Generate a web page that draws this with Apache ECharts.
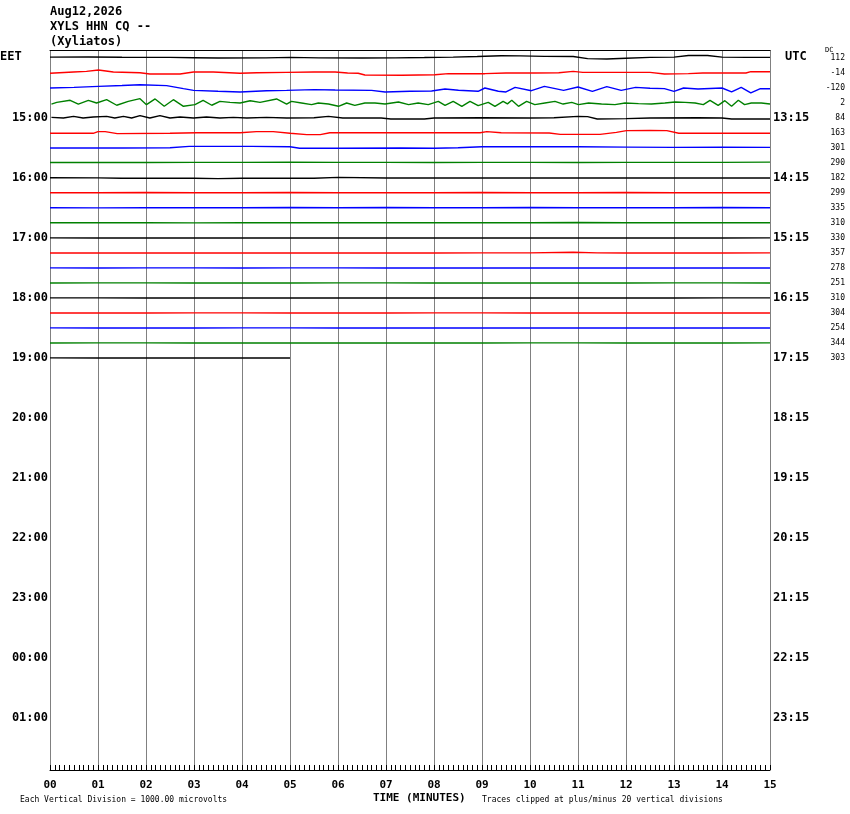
<!DOCTYPE html>
<html>
<head>
<meta charset="utf-8">
<script src="https://cdn.jsdelivr.net/npm/echarts@6/dist/echarts.min.js"></script>
<style>
  html, body { margin: 0; background: #fff; }
  #chart { width: 850px; height: 814px; }
</style>
</head>
<body>
<div id="chart"></div>
<script>
// header / labels
const headerLines = ["Aug12,2026", "XYLS HHN CQ --", "(Xyliatos)"];
const eetLabels = ["15:00", "16:00", "17:00", "18:00", "19:00", "20:00", "21:00", "22:00", "23:00", "00:00", "01:00"];
const utcLabels = ["13:15", "14:15", "15:15", "16:15", "17:15", "18:15", "19:15", "20:15", "21:15", "22:15", "23:15"];
const minuteLabels = ["00", "01", "02", "03", "04", "05", "06", "07", "08", "09", "10", "11", "12", "13", "14", "15"];
const dcOffsets = [112, -14, -120, 2, 84, 163, 301, 290, 182, 299, 335, 310, 330, 357, 278, 251, 310, 304, 254, 344, 303];

// traces: [minute, microvolts], one per 15-minute line
const trace00 = [[0,60],[0.8,65],[1.5,50],[2.5,40],[3,20],[3.5,0],[4.5,10],[5,45],[5.6,10],[6.5,0],[7.2,10],[7.8,30],[8.4,60],[8.9,100],[9.4,150],[9.8,140],[10.3,110],[10.9,100],[11.2,-40],[11.6,-70],[12,-20],[12.5,40],[13,60],[13.3,170],[13.7,170],[14,60],[14.5,40],[15,45]];
const trace01 = [[0,-20],[0.49,67],[0.76,110],[1.01,200],[1.32,67],[1.875,20],[2.08,-67],[2.71,-67],[2.99,67],[3.4,67],[3.96,-20],[4.31,20],[4.93,45],[5.5,67],[5.94,67],[6.2,0],[6.42,-20],[6.56,-130],[7.33,-150],[8.02,-120],[8.3,-45],[9.06,-45],[9.5,0],[10.1,0],[10.6,20],[10.9,110],[11.1,45],[12.5,45],[12.8,-67],[13.3,-40],[13.6,0],[14.5,0],[14.6,90],[15,80]];
const trace02 = [[0,0],[0.5,40],[1.01,110],[1.5,170],[1.875,220],[2.43,155],[2.78,-45],[2.99,-155],[3.5,-220],[3.96,-265],[4.51,-180],[4.93,-155],[5.5,-110],[5.94,-130],[6.7,-160],[6.98,-265],[7.5,-220],[7.95,-200],[8.23,-67],[8.51,-150],[8.92,-220],[9.06,0],[9.34,-220],[9.5,-265],[9.69,45],[10.03,-180],[10.3,110],[10.7,-155],[11,67],[11.3,-220],[11.6,90],[11.9,-155],[12.2,45],[12.5,-20],[12.8,-40],[13,-220],[13.2,0],[13.5,-67],[14,0],[14.2,-265],[14.4,45],[14.6,-330],[14.8,-45],[15,-45]];
const trace03 = [[0.03,-70],[0.14,40],[0.42,180],[0.59,-70],[0.8,180],[0.97,0],[1.18,220],[1.39,-150],[1.63,110],[1.875,290],[2.01,-110],[2.19,270],[2.38,-220],[2.57,220],[2.78,-220],[3.02,-110],[3.19,180],[3.37,-150],[3.54,110],[3.75,40],[3.96,0],[4.17,150],[4.375,40],[4.72,270],[4.93,-70],[5.03,110],[5.24,0],[5.45,-110],[5.59,0],[5.8,-70],[6.01,-220],[6.18,0],[6.35,-155],[6.56,0],[6.77,0],[6.98,-70],[7.26,70],[7.47,-110],[7.67,0],[7.88,-110],[8.09,110],[8.23,-155],[8.4,110],[8.58,-220],[8.75,110],[8.92,-180],[9.13,45],[9.27,-220],[9.44,110],[9.53,-60],[9.62,180],[9.76,-220],[9.93,110],[10.1,-110],[10.31,0],[10.52,110],[10.69,-70],[10.87,45],[11.01,-110],[11.22,0],[11.49,-70],[11.77,-110],[11.98,0],[12.26,-45],[12.53,-70],[12.81,0],[13.02,70],[13.23,45],[13.44,0],[13.61,-110],[13.75,180],[13.92,-155],[14.06,155],[14.2,-220],[14.34,180],[14.47,-110],[14.61,0],[14.82,0],[15,-70]];
const trace04 = [[0.03,45],[0.28,0],[0.49,110],[0.69,0],[0.9,67],[1.18,110],[1.35,0],[1.53,110],[1.7,0],[1.875,155],[2.08,0],[2.29,155],[2.5,0],[2.71,67],[2.99,0],[3.26,67],[3.54,0],[3.82,45],[4.1,0],[4.51,45],[4.93,0],[5.5,20],[5.8,110],[6.1,0],[6.9,0],[7.1,-67],[7.8,-67],[8,0],[9,20],[10,0],[10.5,20],[11,110],[11.2,90],[11.4,-67],[12,-40],[12.5,0],[13.5,20],[14,0],[14.2,-67],[15,-67]];
const trace05 = [[0,-20],[0.9,-20],[1,90],[1.15,90],[1.4,-40],[2.5,-20],[3.06,20],[3.96,20],[4.3,90],[4.65,90],[5,-20],[5.35,-110],[5.63,-110],[5.83,20],[7.3,20],[8.96,20],[9.1,90],[9.4,20],[10.4,0],[10.63,-90],[11.46,-90],[11.8,40],[12.01,155],[12.5,170],[12.85,155],[13.1,-20],[14,-20],[15,-20]];
const trace06 = [[0,0],[1.5,0],[2.5,20],[2.9,110],[4.2,110],[5,80],[5.2,-20],[6,-20],[7.3,0],[8,-20],[8.5,20],[9,80],[11,80],[12,60],[13,40],[14,60],[15,40]];
const trace07 = [[0,30],[1,45],[2,30],[3,45],[4,45],[5,60],[6,45],[7,45],[8,30],[9,45],[10,45],[11,30],[12,40],[13,45],[14,40],[15,60]];
const trace08 = [[0,20],[1,10],[1.5,-20],[3,-20],[3.5,-45],[4,-20],[5.5,-20],[6,45],[7,0],[8,0],[9,0],[10,0],[11,10],[12,0],[13,0],[14,0],[15,0]];
const trace09 = [[0,20],[1,20],[2,30],[3,20],[4,20],[5,30],[6,20],[7,20],[8,20],[9,30],[10,20],[11,20],[12,30],[13,20],[14,20],[15,20]];
const trace10 = [[0,20],[1,10],[2,20],[3,20],[4,20],[5,30],[6,20],[7,30],[8,20],[9,20],[10,30],[11,20],[12,20],[13,20],[14,30],[15,20]];
const trace11 = [[0,20],[1,20],[2,20],[3,10],[4,20],[5,20],[6,20],[7,20],[8,20],[9,20],[10,20],[11,30],[12,20],[13,20],[14,20],[15,20]];
const trace12 = [[0,10],[1,0],[2,10],[3,0],[4,10],[5,0],[6,10],[7,0],[8,0],[9,10],[10,0],[11,10],[12,0],[13,10],[14,0],[15,10]];
const trace13 = [[0,0],[1,10],[2,0],[3,10],[4,0],[5,10],[6,0],[7,10],[8,0],[9,10],[10,10],[10.9,50],[11.4,10],[12,0],[13,10],[14,0],[15,10]];
const trace14 = [[0,10],[1,0],[2,10],[3,10],[4,0],[5,10],[6,10],[7,0],[8,10],[9,0],[10,10],[11,0],[12,10],[13,0],[14,10],[15,0]];
const trace15 = [[0,0],[1,10],[2,10],[3,0],[4,10],[5,0],[6,10],[7,10],[8,0],[9,10],[10,0],[11,10],[12,0],[13,10],[14,10],[15,0]];
const trace16 = [[0,10],[1,10],[2,0],[3,10],[4,0],[5,10],[6,0],[7,0],[8,10],[9,0],[10,10],[11,0],[12,10],[13,0],[14,10],[15,10]];
const trace17 = [[0,0],[1,10],[2,0],[3,10],[4,10],[5,0],[6,10],[7,0],[8,10],[9,10],[10,0],[11,10],[12,0],[13,0],[14,10],[15,0]];
const trace18 = [[0,10],[1,0],[2,10],[3,0],[4,10],[5,10],[6,0],[7,10],[8,0],[9,10],[10,0],[11,0],[12,10],[13,0],[14,10],[15,0]];
const trace19 = [[0,0],[1,10],[2,10],[3,0],[4,10],[5,0],[6,10],[7,0],[8,10],[9,0],[10,10],[11,10],[12,0],[13,10],[14,0],[15,10]];
const trace20 = [[0,10],[1,0],[2,10],[3,0],[4,10],[5,0]];

const traces = [trace00, trace01, trace02, trace03, trace04, trace05, trace06, trace07, trace08, trace09, trace10,
  trace11, trace12, trace13, trace14, trace15, trace16, trace17, trace18, trace19, trace20];

const TRACE_COLORS = ["#000000", "#ff0000", "#0000ff", "#008000"];
const MONO = "DejaVu Sans Mono";
const ROW_MIN = -8 / 15;
const ROW_MAX = 47 + 7 / 15;
const hourRows = eetLabels.map((_, i) => (i + 1) * 4);
const dcRows = dcOffsets.map((_, i) => i);

const chart = echarts.init(document.getElementById("chart"), null, { renderer: "canvas" });

const series = traces.map((tr, row) => ({
  type: "line",
  xAxisIndex: 0,
  yAxisIndex: 0,
  symbol: "none",
  silent: true,
  animation: false,
  lineStyle: { color: TRACE_COLORS[row % 4], width: 1.4 },
  // 1 vertical division (1000 microvolts) = one row spacing
  data: tr.map(([t, uv]) => [t, row - uv / 1000]),
}));

const baseYAxis = {
  type: "value",
  inverse: true,
  min: ROW_MIN,
  max: ROW_MAX,
  axisLine: { show: false },
  axisTick: { show: false },
  splitLine: { show: false },
};

chart.setOption({
  animation: false,
  grid: { left: 50, right: 80, top: 50, height: 720 },
  xAxis: [
    {
      type: "value",
      position: "bottom",
      min: 0,
      max: 15,
      interval: 1,
      axisLine: { show: true, onZero: false, lineStyle: { color: "#000", width: 1 } },
      axisTick: { show: true, inside: true, length: 5, lineStyle: { color: "#000" } },
      minorTick: { show: true, splitNumber: 10, length: 5, lineStyle: { color: "#000" } },
      splitLine: { show: true, lineStyle: { color: "#808080", width: 1 } },
      minorSplitLine: { show: false },
      axisLabel: {
        formatter: (v) => minuteLabels[Math.round(v)],
        color: "#000",
        fontFamily: MONO,
        fontWeight: "bold",
        fontSize: 11,
        margin: 10,
      },
    },
    {
      type: "value",
      position: "top",
      min: 0,
      max: 15,
      axisLine: { show: true, onZero: false, lineStyle: { color: "#000", width: 1 } },
      axisTick: { show: false },
      axisLabel: { show: false },
      splitLine: { show: false },
    },
  ],
  yAxis: [
    {
      ...baseYAxis,
      position: "left",
      axisLabel: {
        customValues: hourRows,
        formatter: (v) => eetLabels[Math.round(v) / 4 - 1],
        color: "#000",
        fontFamily: MONO,
        fontWeight: "bold",
        fontSize: 12,
        margin: 2,
      },
    },
    {
      ...baseYAxis,
      position: "right",
      axisLabel: {
        customValues: hourRows,
        formatter: (v) => utcLabels[Math.round(v) / 4 - 1],
        color: "#000",
        fontFamily: MONO,
        fontWeight: "bold",
        fontSize: 12,
        margin: 3,
      },
    },
    {
      ...baseYAxis,
      position: "right",
      axisLabel: {
        customValues: dcRows,
        formatter: (v) => String(dcOffsets[Math.round(v)]),
        color: "#000",
        fontFamily: MONO,
        fontSize: 8,
        align: "right",
        margin: 75,
      },
    },
  ],
  graphic: [
    ...headerLines.map((txt, i) => ({
      type: "text",
      left: 50,
      top: 6 + i * 15,
      style: { text: txt, fill: "#000", font: `bold 12px "${MONO}"` },
    })),
    { type: "text", left: 0, top: 51, style: { text: "EET", fill: "#000", font: `bold 12px "${MONO}"` } },
    { type: "text", left: 785, top: 51, style: { text: "UTC", fill: "#000", font: `bold 12px "${MONO}"` } },
    { type: "text", left: 825, top: 47, style: { text: "DC", fill: "#000", font: `7px "${MONO}"` } },
    { type: "text", left: 373, top: 793, style: { text: "TIME (MINUTES)", fill: "#000", font: `bold 11px "${MONO}"` } },
    { type: "text", left: 20, top: 796, style: { text: "Each Vertical Division = 1000.00 microvolts", fill: "#000", font: `8px "${MONO}"` } },
    { type: "text", left: 482, top: 796, style: { text: "Traces clipped at plus/minus 20 vertical divisions", fill: "#000", font: `8px "${MONO}"` } },
  ],
  series,
});
</script>
</body>
</html>
